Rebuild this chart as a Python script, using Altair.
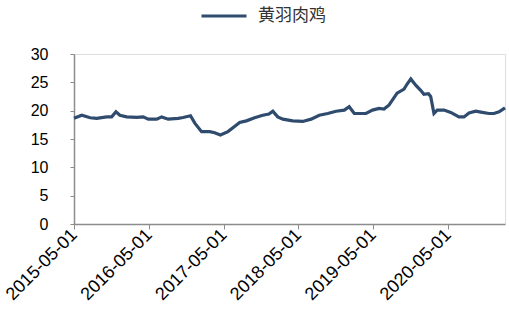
import altair as alt
import pandas as pd

series_name = "黄羽肉鸡"

dates = [
    "2015-05-01", "2015-06-08", "2015-07-19", "2015-08-20", "2015-10-08",
    "2015-11-01", "2015-11-22", "2015-12-11", "2016-01-13", "2016-03-02",
    "2016-04-03", "2016-04-28", "2016-06-08", "2016-07-02", "2016-08-03",
    "2016-09-21", "2016-10-15", "2016-11-20", "2016-12-11", "2017-01-13",
    "2017-02-22", "2017-03-18", "2017-04-15", "2017-05-22", "2017-06-23",
    "2017-07-18", "2017-08-20", "2017-09-29", "2017-11-08", "2017-12-08",
    "2017-12-27", "2018-01-20", "2018-02-14", "2018-04-03", "2018-05-22",
    "2018-07-02", "2018-08-11", "2018-09-21", "2018-11-01", "2018-12-11",
    "2019-01-04", "2019-01-29", "2019-03-27", "2019-04-28", "2019-05-30",
    "2019-06-23", "2019-07-18", "2019-08-26", "2019-09-29", "2019-10-14",
    "2019-11-01", "2019-11-25", "2019-12-19", "2020-01-04", "2020-01-26",
    "2020-02-06", "2020-02-22", "2020-03-09", "2020-04-11", "2020-05-14",
    "2020-06-23", "2020-07-18", "2020-08-11", "2020-09-13", "2020-10-15",
    "2020-11-17", "2020-12-11", "2021-01-05", "2021-02-03",
]
values = [
    18.65, 19.2, 18.75, 18.65, 18.9,
    18.9, 19.8, 19.2, 18.9, 18.8,
    18.9, 18.5, 18.5, 18.9, 18.5,
    18.65, 18.8, 19.1, 17.8, 16.3,
    16.3, 16.1, 15.7, 16.3, 17.2,
    17.9, 18.2, 18.75, 19.2, 19.4,
    19.9, 18.9, 18.5, 18.2, 18.1,
    18.5, 19.2, 19.5, 19.9, 20.1,
    20.7, 19.5, 19.5, 20.1, 20.4,
    20.3, 21.0, 23.1, 23.8, 24.7,
    25.6, 24.5, 23.6, 22.9, 23.0,
    22.5, 19.5, 20.1, 20.1, 19.7,
    18.9, 18.9, 19.6, 19.9, 19.7,
    19.5, 19.5, 19.8, 20.5,
]

tick_years = [2015, 2016, 2017, 2018, 2019, 2020]
y_ticks = [0, 5, 10, 15, 20, 25, 30]

df = pd.DataFrame({"date": dates, "value": values, "series": series_name})

axis_color = "#8c8c8c"

chart = alt.Chart(df).mark_line(strokeWidth=3.2, interpolate="linear").encode(
    x=alt.X(
        "date:T",
        scale=alt.Scale(
            type="utc",
            domain=[alt.DateTime(year=2015, month=5, date=1, utc=True),
                    alt.DateTime(year=2021, month=2, date=3, utc=True)],
        ),
        axis=alt.Axis(
            title=None,
            values=[alt.DateTime(year=y, month=5, date=1, utc=True) for y in tick_years],
            format="%Y-%m-%d",
            labelAngle=-45,
            labelAlign="right",
            labelBaseline="middle",
            labelFont="Liberation Sans",
            labelFontSize=18,
            labelColor="#000000",
            labelPadding=3,
            tickSize=5,
            tickColor=axis_color,
            domainColor=axis_color,
            domainWidth=1.5,
            grid=False,
            labelOverlap=False,
        ),
    ),
    y=alt.Y(
        "value:Q",
        scale=alt.Scale(domain=[0, 30], nice=False, zero=True),
        axis=alt.Axis(
            title=None,
            values=y_ticks,
            labelFont="Liberation Sans",
            labelFontSize=16,
            labelColor="#000000",
            labelPadding=22,
            tickSize=4,
            tickColor=axis_color,
            domainColor=axis_color,
            domainWidth=1.5,
            grid=False,
        ),
    ),
    color=alt.Color(
        "series:N",
        scale=alt.Scale(range=["#2F4B6E"]),
        legend=alt.Legend(
            title=None,
            orient="none",
            legendX=126,
            legendY=-62,
            symbolType="stroke",
            symbolSize=2025,
            symbolStrokeWidth=3,
            labelFont="Noto Sans CJK SC",
            labelFontSize=17,
            labelColor="#333333",
            labelOffset=10,
        ),
    ),
).properties(
    width=431,
    height=170,
    autosize=alt.AutoSizeParams(type="none"),
    padding={"left": 74, "top": 54, "right": 4, "bottom": 95},
).configure_view(stroke=None).configure(background="white")

chart.save("out.html", embed_options={"renderer": "svg", "actions": False})
